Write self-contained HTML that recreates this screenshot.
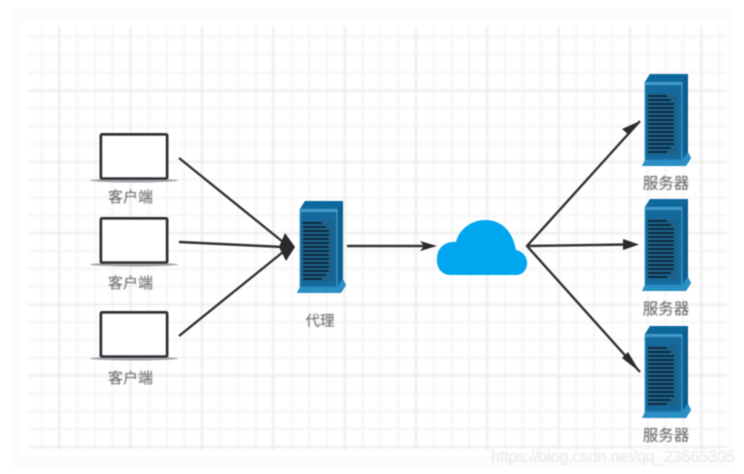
<!DOCTYPE html>
<html><head><meta charset="utf-8"><style>
html,body{margin:0;padding:0;background:#fff;width:744px;height:474px;overflow:hidden}
svg{display:block}
text{font-family:"Liberation Sans","Noto Sans CJK SC",sans-serif}
</style></head><body>
<svg width="744" height="474" viewBox="0 0 744 474" xmlns="http://www.w3.org/2000/svg">
<defs>
<filter id="b" x="-10%" y="-10%" width="120%" height="120%"><feGaussianBlur stdDeviation="0.6"/></filter>
<filter id="g" x="-5%" y="-5%" width="110%" height="110%"><feGaussianBlur stdDeviation="1"/></filter>
<filter id="t"><feGaussianBlur stdDeviation="0.7"/></filter>
<g id="srv">
<path d="M-1 92 L2 86 V8 L7 0 H45 V78 L48 84 L43 92 Z" fill="#1a78ab"/>
<path d="M2 8 L7 0 H45 L39 8 Z" fill="#11679c"/>
<path d="M39 8 L45 0 V78 L39 85 Z" fill="#0f5f90"/>
<rect x="2" y="8" width="37" height="77" fill="#15699c"/>
<rect x="2" y="8" width="37" height="3" fill="#3f9acb"/>
<path d="M-1 92 L2 86 H39 L45 78 L48 84 L43 92 Z" fill="#2a8fc4"/>
<rect x="4" y="20" width="31" height="60" fill="#1d628a"/>
<g stroke="#0a2438" stroke-width="2">
<path d="M5 22H24M5 26H28M5 30H31M5 34H31M5 38H31M5 42H31M5 46H31M5 50H31M5 54H31M5 58H31M5 62H31M5 66H31M5 70H31M5 74H28M5 78H24"/>
</g>
<path d="M2 8V86M39 8V85" stroke="#3a9ed2" stroke-width="1" fill="none"/>
</g>
<g id="lap">
<ellipse cx="44" cy="47.5" rx="44" ry="2" fill="#a4a4a8"/>
<rect x="11" y="1.5" width="66" height="44" fill="#fff" stroke="#33333b" stroke-width="3" rx="1"/>
</g>
</defs>
<rect width="744" height="474" fill="#fff"/>
<rect x="10" y="8" width="724" height="458" fill="#fcfcfc"/>
<rect x="22" y="20" width="706" height="436" fill="#fff"/>
<g filter="url(#g)" stroke="#f1f1f1" stroke-width="1.5">
<path d="M41.5 26V450M77 26V450M95 26V450M112.7 26V450M149 26V450M166.7 26V450M184.5 26V450M220 26V450M238 26V450M255.7 26V450M291.5 26V450M309.3 26V450M327 26V450M362.7 26V450M380.5 26V450M398.3 26V450M434 26V450M451.7 26V450M469.5 26V450M505 26V450M523 26V450M540.7 26V450M576.5 26V450M594.3 26V450M612 26V450M647.7 26V450M665.5 26V450M683.3 26V450M719 26V450"/>
<path d="M28 36.7H727M28 55H727M28 72.7H727M28 108.5H727M28 126.3H727M28 144H727M28 179.7H727M28 197.5H727M28 215.3H727M28 251H727M28 268.7H727M28 286.5H727M28 322.2H727M28 340H727M28 357.8H727M28 393.5H727M28 411.3H727M28 429H727"/>
</g>
<g filter="url(#g)" stroke="#e9e9e9" stroke-width="1.8">
<path d="M59.3 26V450M130.6 26V450M202 26V450M273.3 26V450M344.7 26V450M416 26V450M487.3 26V450M558.7 26V450M630 26V450M701.3 26V450"/>
<path d="M28 90.7H727M28 162H727M28 233.2H727M28 304.5H727M28 375.7H727M28 447H727"/>
</g>
<g filter="url(#b)">
<use href="#lap" x="90" y="133"/>
<use href="#lap" x="90" y="217"/>
<use href="#lap" x="90" y="311"/>
<use href="#srv" x="298" y="201"/>
<use href="#srv" x="643" y="74"/>
<use href="#srv" x="643" y="199"/>
<use href="#srv" x="643" y="326"/>
<path d="M451 275 C440 275 436 266 437 257 C438 247 446 241 456 242 C459 229 472 220 485 220 C503 220 513 233 516 250 C524 252 528 258 527 265 C526 271 522 275 516 275 Z" fill="#02a7ee"/>
<g stroke="#333" stroke-width="2.4" fill="none">
<path d="M179 158L283 242M179 242L283 247M179 336L283 252"/>
<path d="M347 246H424"/>
<path d="M640 121L527 246L640 372M527 246L628 244.5"/>
</g>
<path d="M285 233 L295 247 L286 261 L279 247 Z" fill="#2b2b2b"/>
<path d="M437 246 L420 241 L424 246 L420 251 Z" fill="#2b2b2b"/>
<path d="M640 121 L622 129 L629 135 Z" fill="#2b2b2b"/>
<path d="M639 244.5 L623 239 L623 250 Z" fill="#2b2b2b"/>
<path d="M640 372 L622 358 L628 352 Z" fill="#2b2b2b"/>
</g>
<g filter="url(#t)" fill="#5c5c5c" font-size="15" text-anchor="middle">
<text x="130.5" y="202">客户端</text>
<text x="130.5" y="288">客户端</text>
<text x="130.5" y="383">客户端</text>
<text x="320" y="326" font-size="14.5">代理</text>
<text x="666" y="188.5" font-size="15.5">服务器</text>
<text x="666" y="314" font-size="15.5">服务器</text>
<text x="666" y="440.5" font-size="15.5">服务器</text>
</g>
<text x="491" y="462" font-size="16.5" fill="#e8e8e8" filter="url(#t)" textLength="244">https://blog.csdn.net/qq_23665305</text>
</svg>
</body></html>
